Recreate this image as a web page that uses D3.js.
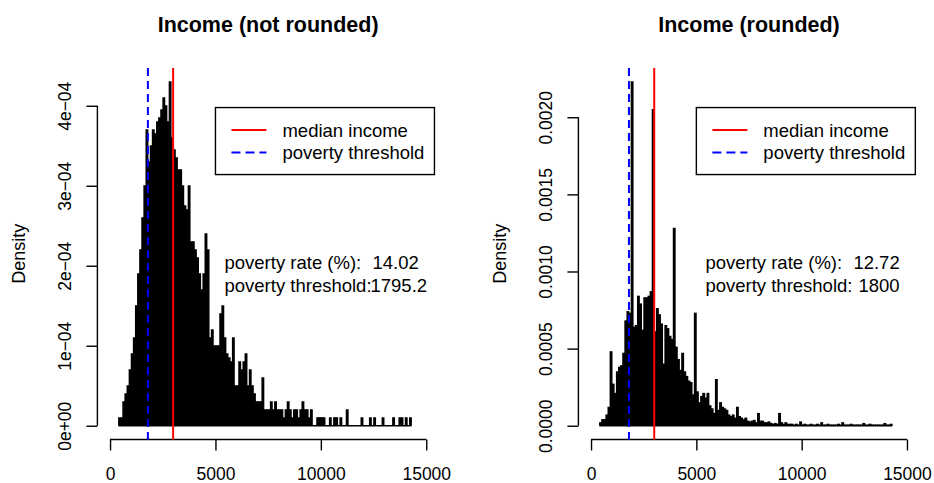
<!DOCTYPE html>
<html>
<head>
<meta charset="utf-8">
<script src="https://cdn.jsdelivr.net/npm/d3@7"></script>
<style>
  body { margin: 0; background: #fff; }
  svg { display: block; font-family: "Liberation Sans", Arial, Helvetica, sans-serif; }
</style>
</head>
<body>
<svg id="chart" width="934" height="483"></svg>
<script>
// histogram breaks: bins of 100 starting at 400
const BIN_WIDTH = 100;
const FIRST_BREAK = 400;

// densities per bin, in units of 1e-04
const densityNotRounded = [
  0.1, 0.1, 0.3, 0.4, 0.5, 0.7, 0.9, 1.1, 1.5, 1.9,
  2.2, 2.6, 3.0, 3.7, 3.3, 3.5, 3.7, 3.65, 3.8, 3.85,
  3.95, 4.1, 4.0, 3.8, 4.3, 3.6, 3.45, 3.35, 3.2, 3.2,
  3.0, 2.75, 2.7, 3.0, 2.3, 2.3, 2.2, 2.1, 1.9, 1.7,
  1.9, 2.4, 2.2, 1.1, 1.2, 1.0, 1.0, 1.0, 1.4, 1.5,
  1.1, 0.9, 0.85, 0.8, 1.1, 0.5, 0.5, 0.8, 0.7, 0.8,
  0.9, 0.5, 0.7, 0.5, 0.4, 0.3, 0.3, 0.3, 0.6, 0.2,
  0.2, 0.2, 0.3, 0.2, 0.3, 0.2, 0.2, 0.2, 0.1, 0.2,
  0.3, 0.2, 0.1, 0.2, 0.2, 0.1, 0.2, 0.3, 0.2, 0.2,
  0.1, 0.2, 0, 0, 0.1, 0.1, 0.1, 0.1, 0, 0,
  0.1, 0, 0.1, 0.1, 0, 0.1, 0, 0, 0.2, 0,
  0, 0, 0, 0, 0, 0.1, 0, 0, 0, 0.1,
  0, 0.1, 0, 0, 0, 0.1, 0, 0, 0, 0,
  0.1, 0, 0, 0.1, 0.1, 0, 0.1, 0, 0.1
];

const densityRounded = [
  0.2, 0.4, 0.4, 0.7, 1.2, 4.8, 2.7, 2.1, 3.5, 3.8,
  3.9, 4.7, 6.8, 7.4, 7.3, 22.3, 6.4, 6.5, 8.4, 7.9,
  6.2, 8.3, 8.3, 8.4, 8.7, 20.5, 6.1, 7.6, 7.2, 6.6,
  4.0, 6.5, 6.3, 5.8, 5.6, 12.8, 5.1, 4.3, 3.6, 4.7,
  3.5, 3.2, 2.9, 2.8, 2.0, 7.3, 2.2, 1.5, 1.9, 2.1,
  1.8, 2.1, 1.3, 1.1, 0.8, 3.0, 1.0, 1.5, 1.2, 1.1,
  1.0, 0.7, 0.6, 0.7, 0.5, 1.2, 0.6, 0.5, 0.4, 0.5,
  0.3, 0.25, 0.3, 0.35, 0.2, 0.8, 0.3, 0.3, 0.2, 0.2,
  0.25, 0.15, 0.1, 0.15, 0.1, 0.8, 0.2, 0.1, 0.2, 0.1,
  0.1, 0.1, 0.05, 0.1, 0.05, 0.25, 0.05, 0.1, 0.05, 0.05,
  0.1, 0.05, 0.05, 0.1, 0.05, 0.2, 0.05, 0.05, 0.1, 0.05,
  0.05, 0.05, 0.05, 0.1, 0.05, 0.2, 0.05, 0.05, 0.05, 0.1,
  0.05, 0.05, 0.05, 0.05, 0.05, 0.15, 0.05, 0.05, 0.1, 0.05,
  0.05, 0.05, 0.05, 0.05, 0.05, 0.15, 0.05, 0.05, 0.1
];

const titles = ['Income (not rounded)', 'Income (rounded)'];
const medianIncome = [2992, 3000];
const povertyThreshold = [1795.2, 1800];
const povertyRateText = ['14.02', '12.72'];
const thresholdText = ['1795.2', '1800'];
const legendLabels = ['median income', 'poverty threshold'];
const statLabels = ['poverty rate (%):', 'poverty threshold:'];

const xTicks = [0, 5000, 10000, 15000];
const yTicksNotRounded = [0, 1e-4, 2e-4, 3e-4, 4e-4];
const yTickLabelsNotRounded = ['0e+00', '1e\u221204', '2e\u221204', '3e\u221204', '4e\u221204'];
const yTicksRounded = [0, 0.0005, 0.0010, 0.0015, 0.0020];
const yTickLabelsRounded = ['0.0000', '0.0005', '0.0010', '0.0015', '0.0020'];

// plot region (R style, axes at the edges)
const PLOT_TOP = 68;
const PLOT_BOTTOM = 439.5;
const X_DOMAIN = [-600, 15600];

const panels = [
  {
    left: 97.4, right: 438.9,
    density: densityNotRounded,
    yTicks: yTicksNotRounded, yLabels: yTickLabelsNotRounded,
    valueOffsets: [148, 146]
  },
  {
    left: 578.4, right: 919.6,
    density: densityRounded,
    yTicks: yTicksRounded, yLabels: yTickLabelsRounded,
    valueOffsets: [148, 153]
  }
];

const svg = d3.select('#chart');

panels.forEach((p, k) => drawPanel(p, k));

function drawPanel(p, k) {
  const g = svg.append('g');

  const values = p.density.map(d => d * 1e-4);
  const ymax = d3.max(values);

  const x = d3.scaleLinear().domain(X_DOMAIN).range([p.left, p.right]);
  const y = d3.scaleLinear().domain([-0.04 * ymax, 1.04 * ymax]).range([PLOT_BOTTOM, PLOT_TOP]);

  const bins = values.map((v, i) => ({
    x0: FIRST_BREAK + i * BIN_WIDTH,
    x1: FIRST_BREAK + (i + 1) * BIN_WIDTH,
    v: v
  }));

  // bottom borders of all bins (empty ones too)
  g.append('line')
    .attr('x1', x(bins[0].x0))
    .attr('x2', x(bins[bins.length - 1].x1))
    .attr('y1', y(0))
    .attr('y2', y(0))
    .attr('stroke', '#000')
    .attr('stroke-width', 1.4);

  // bars overlap a little so the body reads solid like R's dense borders
  g.append('g')
    .selectAll('rect')
    .data(bins.filter(b => b.v > 0))
    .join('rect')
    .attr('x', d => x(d.x0) - 0.4)
    .attr('width', d => x(d.x1) - x(d.x0) + 0.8)
    .attr('y', d => y(d.v) - 0.5)
    .attr('height', d => y(0) - y(d.v) + 0.5)
    .attr('fill', '#000');

  // x axis
  const gx = g.append('g')
    .attr('transform', `translate(0,${PLOT_BOTTOM})`)
    .call(d3.axisBottom(x).tickValues(xTicks).tickSize(11).tickFormat(d3.format('d')))
    .attr('font-family', null)
    .attr('font-size', null);
  gx.select('.domain').remove();
  gx.append('line')
    .attr('x1', x(xTicks[0]))
    .attr('x2', x(xTicks[xTicks.length - 1]))
    .attr('stroke', '#000');
  gx.selectAll('line').attr('stroke-width', 1.4);
  gx.selectAll('.tick text')
    .attr('y', 40.5)
    .attr('dy', null)
    .attr('font-size', 17.5)
    .attr('fill', '#000');

  // y axis
  const gy = g.append('g')
    .attr('transform', `translate(${p.left},0)`)
    .call(d3.axisLeft(y).tickValues(p.yTicks).tickSize(11).tickFormat((d, i) => p.yLabels[i]))
    .attr('font-family', null)
    .attr('font-size', null);
  gy.select('.domain').remove();
  gy.append('line')
    .attr('y1', y(p.yTicks[0]))
    .attr('y2', y(p.yTicks[p.yTicks.length - 1]))
    .attr('stroke', '#000');
  gy.selectAll('line').attr('stroke-width', 1.4);
  gy.selectAll('.tick text')
    .attr('transform', 'rotate(-90)')
    .attr('x', 0)
    .attr('y', -26.5)
    .attr('dy', null)
    .attr('text-anchor', 'middle')
    .attr('font-size', 17.5)
    .attr('fill', '#000');

  // axis title
  g.append('text')
    .attr('transform', `translate(${p.left - 72.5},${(PLOT_TOP + PLOT_BOTTOM) / 2}) rotate(-90)`)
    .attr('text-anchor', 'middle')
    .attr('font-size', 18)
    .text('Density');

  // main title
  g.append('text')
    .attr('x', (p.left + p.right) / 2)
    .attr('y', 32)
    .attr('text-anchor', 'middle')
    .attr('font-size', 21.5)
    .attr('font-weight', 'bold')
    .text(titles[k]);

  // median and threshold lines
  g.append('line')
    .attr('x1', x(povertyThreshold[k])).attr('x2', x(povertyThreshold[k]))
    .attr('y1', PLOT_TOP).attr('y2', PLOT_BOTTOM)
    .attr('stroke', '#0000ff')
    .attr('stroke-width', 2)
    .attr('stroke-dasharray', '8,5');

  g.append('line')
    .attr('x1', x(medianIncome[k])).attr('x2', x(medianIncome[k]))
    .attr('y1', PLOT_TOP).attr('y2', PLOT_BOTTOM)
    .attr('stroke', '#ff0000')
    .attr('stroke-width', 2);

  // legend box
  const lx = x(5000);
  const ly = y(0.925 * ymax);
  const leg = g.append('g').attr('transform', `translate(${lx},${ly})`);
  leg.append('rect')
    .attr('width', 219)
    .attr('height', 67)
    .attr('fill', 'none')
    .attr('stroke', '#000')
    .attr('stroke-width', 1.4);
  const legColors = ['#ff0000', '#0000ff'];
  const legDash = [null, '9,5'];
  legendLabels.forEach((lab, i) => {
    const yy = 22.5 + i * 22.5;
    leg.append('line')
      .attr('x1', 16).attr('x2', 51)
      .attr('y1', yy).attr('y2', yy)
      .attr('stroke', legColors[i])
      .attr('stroke-width', 2)
      .attr('stroke-dasharray', legDash[i]);
    leg.append('text')
      .attr('x', 67)
      .attr('y', yy + 6.5)
      .attr('font-size', 18.5)
      .text(lab);
  });

  // poverty statistics
  const sx = x(5430);
  const sy = y(0.456 * ymax);
  const statValues = [povertyRateText[k], thresholdText[k]];
  statLabels.forEach((lab, i) => {
    g.append('text')
      .attr('x', sx)
      .attr('y', sy + i * 23.5)
      .attr('font-size', 18.5)
      .text(lab);
    g.append('text')
      .attr('x', sx + p.valueOffsets[i])
      .attr('y', sy + i * 23.5)
      .attr('font-size', 18.5)
      .text(statValues[i]);
  });
}
</script>
</body>
</html>
